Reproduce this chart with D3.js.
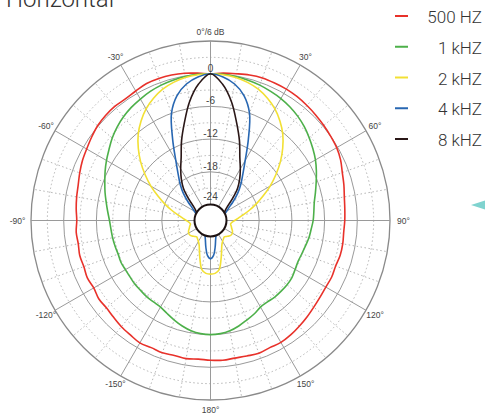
<!DOCTYPE html>
<html>
<head>
  <meta charset="UTF-8" />
  <title>Horizontal polar</title>
  <script src="https://d3js.org/d3.v7.min.js"></script>
  <style>
    body { margin: 0; background: #fff; }
    .grid { fill: none; stroke: #9a9a9a; stroke-width: 1; }
    .grid-dot { fill: none; stroke: #b5b5b5; stroke-width: 1; stroke-dasharray: 1.5 2.5; }
    .tick-label { font-family: "Liberation Sans", Arial, sans-serif; font-size: 8.5px; fill: #444; }
    .db-label { font-family: "Liberation Sans", Arial, sans-serif; font-size: 10px; fill: #444; }
    .curve { fill: none; stroke-width: 1.6; stroke-linejoin: round; }
    .legend text { font-family: Roboto, "Liberation Sans", sans-serif; font-weight: 300; font-size: 17px; fill: #333; }
  </style>
</head>
<body>
<svg id="chart" width="485" height="414"></svg>
<script>
  // angles in degrees (0 = front, clockwise), step 5
  const angles = d3.range(-180, 180, 5);

  // levels in dB, one value per angle (-180 ... 175)
  const db500 = [
    -1.3, -1.4, -1.2, -1.3, -1.1, -1.2, -1.0, -1.3, -1.5, -1.8, -2.0, -1.9,
    -2.2, -2.0, -2.2, -2.1, -2.3, -2.2, -2.4, -2.2, -2.0, -1.8, -1.4, -1.0,
    -0.7, -0.3, 0.1, 0.3, 0.4, 0.3, 0.5, 0.8, 0.8, 0.7, 0.5, 0.2,
    0.0, 0.2, 0.4, 0.7, 0.9, 0.9, 0.9, 0.8, 0.6, 0.4, 0.2, 0.0,
    -0.2, -0.6, -1.2, -1.6, -2.0, -2.2, -2.3, -2.4, -2.3, -2.3, -2.5, -2.4,
    -2.5, -2.4, -2.2, -1.9, -1.6, -1.3, -1.1, -1.2, -1.0, -1.2, -1.3, -1.2
  ];
  const db1k = [
    -6.0, -6.1, -6.4, -6.9, -7.5, -8.1, -8.6, -8.7, -8.7, -8.8, -8.8, -8.9,
    -8.9, -8.8, -8.9, -8.8, -8.7, -8.6, -8.4, -8.0, -7.5, -6.9, -6.3, -5.6,
    -4.9, -4.2, -3.4, -2.7, -2.1, -1.6, -1.2, -0.8, -0.5, -0.3, -0.1, 0.0,
    0.0, 0.0, -0.1, -0.3, -0.5, -0.8, -1.1, -1.5, -2.0, -2.6, -3.3, -4.0,
    -4.7, -5.5, -6.3, -7.0, -7.6, -7.9, -8.1, -8.4, -8.6, -8.9, -9.1, -9.2,
    -9.0, -8.7, -8.6, -8.6, -8.6, -8.7, -8.6, -8.0, -7.5, -6.9, -6.4, -6.1
  ];
  const db2k = [
    -17.1, -17.2, -17.8, -19.5, -21.0, -22.0, -22.5, -22.8, -23.0, -22.8, -22.5, -22.3,
    -22.3, -22.5, -22.8, -23.0, -23.2, -23.0, -22.5, -21.8, -20.8, -19.5, -18.0, -16.3,
    -14.3, -12.3, -10.2, -8.2, -6.3, -4.7, -3.3, -2.2, -1.3, -0.7, -0.3, -0.1,
    0.0, -0.1, -0.3, -0.7, -1.3, -2.2, -3.3, -4.7, -6.3, -8.2, -10.2, -12.3,
    -14.3, -16.3, -18.0, -19.5, -20.8, -21.8, -22.5, -23.0, -23.2, -23.0, -22.8, -22.5,
    -22.3, -22.3, -22.5, -22.8, -23.0, -22.8, -22.5, -22.0, -21.0, -19.5, -17.8, -17.2
  ];
  const db4k = [
    -19.9, -20.5, -22.0, -23.3, -24.0, -24.5, -24.5, -24.5, -24.5, -24.5, -24.5, -24.5,
    -24.5, -24.5, -24.5, -24.5, -24.5, -24.5, -24.5, -24.5, -24.5, -24.5, -24.3, -24.0,
    -23.5, -22.8, -21.5, -19.9, -18.3, -16.6, -14.2, -10.5, -6.0, -3.2, -1.5, -0.5,
    0.0, -0.5, -1.5, -3.2, -6.0, -10.5, -14.2, -16.6, -18.3, -19.9, -21.5, -22.8,
    -23.5, -24.0, -24.3, -24.5, -24.5, -24.5, -24.5, -24.5, -24.5, -24.5, -24.5, -24.5,
    -24.5, -24.5, -24.5, -24.5, -24.5, -24.5, -24.5, -24.5, -24.0, -23.3, -22.0, -20.5
  ];
  const db8k = [
    -24.5, -24.5, -24.5, -24.5, -24.5, -24.5, -24.5, -24.5, -24.5, -24.5, -24.5, -24.5,
    -24.5, -24.5, -24.5, -24.5, -24.5, -24.5, -24.5, -24.5, -24.5, -24.5, -24.5, -24.3,
    -24.0, -23.6, -22.8, -21.2, -19.2, -17.6, -16.0, -14.2, -11.4, -8.4, -4.8, -1.8,
    0.0, -1.8, -4.8, -8.4, -11.4, -14.2, -16.0, -17.6, -19.2, -21.2, -22.8, -23.6,
    -24.0, -24.3, -24.5, -24.5, -24.5, -24.5, -24.5, -24.5, -24.5, -24.5, -24.5, -24.5,
    -24.5, -24.5, -24.5, -24.5, -24.5, -24.5, -24.5, -24.5, -24.5, -24.5, -24.5, -24.5
  ];

  const seriesNames = ["500 HZ", "1 kHZ", "2 kHZ", "4 kHZ", "8 kHZ"];
  const seriesColors = ["#e8312a", "#4db04a", "#f2e034", "#2867b2", "#2a1717"];
  const seriesData = [db500, db1k, db2k, db4k, db8k];

  const ringsSolid = [-18, -12, -6, 0];
  const ringsDotted = [-21, -15, -9, -3, 3];
  const dbLabels = ["0", "-6", "-12", "-18", "-24"];
  const spokeAngles = [0, 30, 60, 90, 120, 150, 180, -150, -120, -90, -60, -30];
  const spokeLabels = ["0°/6 dB", "30°", "60°", "90°", "120°", "150°", "180°", "-150°", "-120°", "-90°", "-60°", "-30°"];

  const cx = 210.5, cy = 220.5;
  const rHole = 16, rOuter = 179.5;
  const r = d3.scaleLinear().domain([-24, 6]).range([rHole, rOuter]);
  const rad = d => d * Math.PI / 180;

  const svg = d3.select("#chart");

  // title, cut by the top edge as in the source image
  svg.append("text")
    .attr("x", 6).attr("y", 7)
    .style("font-family", "Roboto, 'Liberation Sans', sans-serif")
    .style("font-weight", 300)
    .style("font-size", "24px")
    .style("fill", "#333")
    .text("Horizontal");

  const g = svg.append("g").attr("transform", `translate(${cx},${cy})`);

  // dotted spokes every 10 degrees
  const dotSpokes = d3.range(0, 360, 10).filter(a => a % 30 !== 0);
  g.selectAll(".dspoke").data(dotSpokes).enter().append("line")
    .attr("class", "grid-dot")
    .attr("x1", d => Math.sin(rad(d)) * r(-21)).attr("y1", d => -Math.cos(rad(d)) * r(-21))
    .attr("x2", d => Math.sin(rad(d)) * rOuter).attr("y2", d => -Math.cos(rad(d)) * rOuter);

  g.selectAll(".dring").data(ringsDotted).enter().append("circle")
    .attr("class", "grid-dot").attr("r", d => r(d));

  g.selectAll(".ring").data(ringsSolid).enter().append("circle")
    .attr("class", "grid").attr("r", d => r(d));

  g.append("circle").attr("class", "grid").attr("r", rOuter)
    .style("stroke", "#8a8a8a").style("stroke-width", 1.3);

  g.selectAll(".spoke").data(spokeAngles).enter().append("line")
    .attr("class", "grid")
    .attr("x1", 0).attr("y1", 0)
    .attr("x2", d => Math.sin(rad(d)) * rOuter).attr("y2", d => -Math.cos(rad(d)) * rOuter);

  // angle labels
  g.selectAll(".tick-label").data(spokeAngles).enter().append("text")
    .attr("class", "tick-label")
    .attr("text-anchor", "middle")
    .attr("dominant-baseline", "central")
    .attr("x", d => Math.sin(rad(d)) * (Math.abs(d) === 90 ? 193 : 190))
    .attr("y", d => -Math.cos(rad(d)) * (Math.abs(d) === 90 ? 193 : 189))
    .text((d, i) => spokeLabels[i]);

  // curves
  const line = d3.lineRadial()
    .angle((d, i) => rad(angles[i]))
    .radius(d => Math.max(0, r(d)))
    .curve(d3.curveCatmullRomClosed.alpha(0.5));

  g.selectAll(".curve").data(seriesData).enter().append("path")
    .attr("class", "curve")
    .attr("stroke", (d, i) => seriesColors[i])
    .attr("d", line);

  // centre hole (-24 dB)
  g.append("circle").attr("r", rHole)
    .attr("fill", "#fff").attr("stroke", "#1d1212").attr("stroke-width", 2);

  // dB labels along the front axis, just above each ring
  g.selectAll(".db-label").data(dbLabels).enter().append("text")
    .attr("class", "db-label")
    .attr("text-anchor", "middle")
    .attr("dominant-baseline", "central")
    .attr("x", 0)
    .attr("y", d => -r(+d) - (d === "-24" ? 8 : 5.5))
    .text(d => d);

  // legend
  const legend = svg.append("g").attr("class", "legend");
  const rowY = d3.scaleLinear().domain([0, 4]).range([16, 139]);
  seriesNames.forEach((name, i) => {
    legend.append("line")
      .attr("x1", 395).attr("x2", 408)
      .attr("y1", rowY(i)).attr("y2", rowY(i))
      .attr("stroke", seriesColors[i]).attr("stroke-width", 2);
    legend.append("text")
      .attr("x", 482).attr("y", rowY(i) + 1)
      .attr("text-anchor", "end")
      .attr("dominant-baseline", "central")
      .text(name);
  });

  // small teal pointer at the right edge
  svg.append("path")
    .attr("d", "M471,205L485,200.5L485,209.5Z")
    .attr("fill", "#7fd3cf");
</script>
</body>
</html>
